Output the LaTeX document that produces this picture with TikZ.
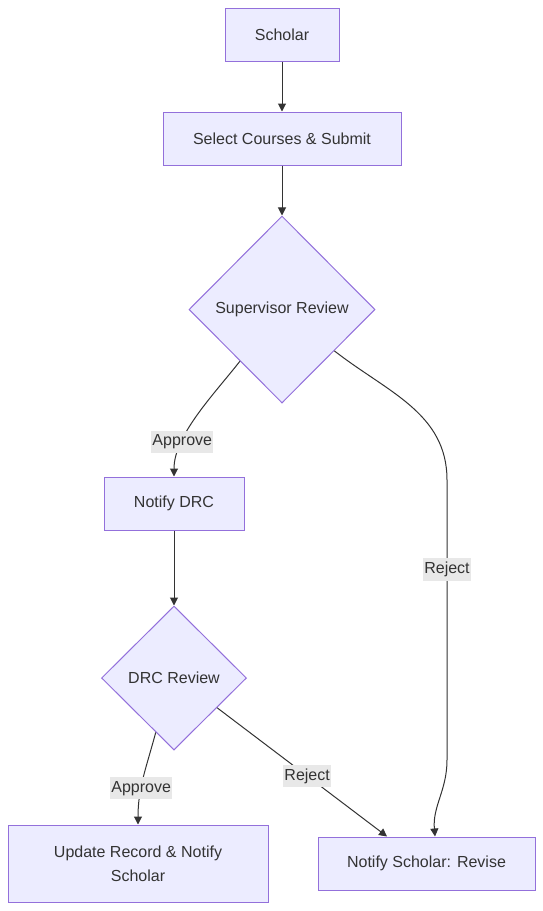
\documentclass[tikz,border=0pt]{standalone}
\usepackage{fontspec}
\setmainfont{Liberation Sans}
\usetikzlibrary{shapes.geometric,arrows.meta,calc}
\definecolor{boxfill}{HTML}{ECECFF}
\definecolor{boxline}{HTML}{9370DB}
\definecolor{ink}{HTML}{333333}
\definecolor{lblfill}{HTML}{E8E8E8}
\tikzset{
  stepbox/.style={draw=boxline, fill=boxfill, line width=0.75pt, text=ink,
    minimum height=53*0.75pt, inner sep=0pt, font=\fontsize{12}{18}\selectfont},
  choice/.style={diamond, draw=boxline, fill=boxfill, line width=0.75pt, text=ink,
    inner sep=0pt, font=\fontsize{12}{18}\selectfont},
  flow/.style={draw=ink, line width=0.75pt, -{Triangle[length=6pt,width=6pt]}},
  lbl/.style={fill=lblfill, text=ink, inner xsep=1pt, inner ysep=3pt,
    font=\fontsize{12}{14}\selectfont}
}
\begin{document}
\begin{tikzpicture}[x=0.75pt, y=-0.75pt]
    \useasboundingbox (0,0) rectangle (543,911);

    \node[stepbox, minimum width=114*0.75pt] (scholar) at (282,34.5) {Scholar};
    \node[stepbox, minimum width=238*0.75pt] (select) at (282,138.5) {Select Courses \& Submit};
    \node[choice, minimum width=186*0.75pt, minimum height=187*0.75pt] (supreview) at (282,309.5) {Supervisor Review};
    \node[stepbox, minimum width=140*0.75pt] (notifydrc) at (174,503.5) {Notify DRC};
    \node[choice, minimum width=145*0.75pt, minimum height=144*0.75pt] (drcreview) at (174,678) {DRC Review};
    \node[stepbox, minimum width=260*0.75pt, minimum height=77*0.75pt, align=center] (update) at (138,863.5) {Update Record \& Notify\\Scholar};
    \node[stepbox, minimum width=217*0.75pt] (revise) at (426.5,863.5) {Notify Scholar: Revise};

    \coordinate (r1) at (447,480);
    \coordinate (r2) at (447,760);

    \draw[flow] ($(supreview.west)!0.55!(supreview.south)$) to[out=-128, in=90, looseness=0.8]
      node[lbl, pos=0.72] {Approve} (notifydrc.north);
    \draw[flow] (scholar) -- (select);
    \draw[flow] (select) -- (supreview);
    \draw[flow] ($(supreview.east)!0.44!(supreview.south)$) to[out=-38, in=90] (r1)
      -- node[lbl, pos=0.32] {Reject} (r2) to[out=-90, in=95] ([xshift=6.4pt]revise.north);
    \draw[flow] (notifydrc) -- (drcreview);
    \draw[flow] ($(drcreview.west)!0.75!(drcreview.south)$) to[out=-105, in=90]
      node[lbl, pos=0.62] {Approve} (update.north);
    \draw[flow] ($(drcreview.east)!0.41!(drcreview.south)$) --
      node[lbl, pos=0.53] {Reject} ([xshift=-29.6pt]revise.north);
\end{tikzpicture}
\end{document}
